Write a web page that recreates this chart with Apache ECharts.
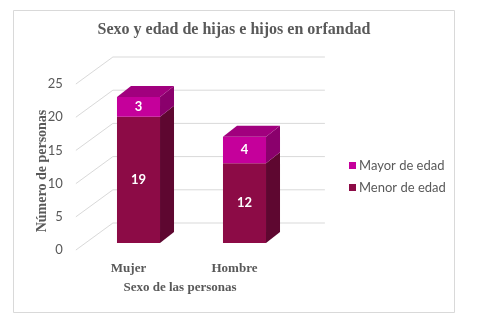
<!DOCTYPE html>
<html>
<head>
<meta charset="utf-8">
<script src="https://cdn.jsdelivr.net/npm/echarts@6/dist/echarts.min.js"></script>
<style>html,body{margin:0;padding:0;background:#fff;}#c{width:488px;height:323px;}</style>
</head>
<body>
<div id="c"></div>
<script>
const categories = ['Mujer', 'Hombre'];
const menorDeEdad = [19, 12];
const mayorDeEdad = [3, 4];
const yTicks = [0, 5, 10, 15, 20, 25];
const seriesNames = ['Mayor de edad', 'Menor de edad'];

const FRONT_DX = -9.6, FRONT_DY = 7;
const BACK_DX = 27.4, BACK_DY = -20;
const BAR_DX = 14, BAR_DY = -11;

const menorData = categories.map((c, i) => [i, 0, menorDeEdad[i]]);
const mayorData = categories.map((c, i) => [i, menorDeEdad[i], menorDeEdad[i] + mayorDeEdad[i]]);
const tickData = yTicks.map(v => [0, v]);

function gridRender(params, api) {
  const cs = params.coordSys;
  const v = api.value(1);
  const y = api.coord([0, v])[1];
  const L = cs.x, R = cs.x + cs.width;
  return {
    type: 'group',
    silent: true,
    children: [
      {
        type: 'polyline',
        shape: { points: [[L + FRONT_DX, y + FRONT_DY], [L + BACK_DX, y + BACK_DY], [R + BACK_DX, y + BACK_DY]] },
        style: { stroke: '#d9d9d9', lineWidth: 1, fill: null }
      },
      {
        type: 'text',
        style: { text: String(v), x: L + FRONT_DX - 13, y: y + FRONT_DY, align: 'right', verticalAlign: 'middle', fill: '#595959', font: '13px Lato' }
      }
    ]
  };
}

function makeBarRender(colors, isTop) {
  return function (params, api) {
    const ci = api.value(0), base = api.value(1), top = api.value(2);
    const xC = api.coord([ci, 0])[0];
    const w = api.size([1, 0])[0] * 0.406;
    const yB = api.coord([ci, base])[1], yT = api.coord([ci, top])[1];
    const xL = xC - w / 2, xR = xC + w / 2;
    const children = [
      { type: 'rect', shape: { x: xL, y: yT, width: w, height: yB - yT }, style: { fill: colors.front } },
      { type: 'polygon', shape: { points: [[xR, yT], [xR + BAR_DX, yT + BAR_DY], [xR + BAR_DX, yB + BAR_DY], [xR, yB]] }, style: { fill: colors.side } }
    ];
    if (isTop) {
      children.push({ type: 'polygon', shape: { points: [[xL, yT], [xL + BAR_DX, yT + BAR_DY], [xR + BAR_DX, yT + BAR_DY], [xR, yT]] }, style: { fill: colors.top } });
    }
    children.push({
      type: 'text',
      style: { text: String(top - base), x: xC, y: (yT + yB) / 2, align: 'center', verticalAlign: 'middle', fill: '#ffffff', font: 'bold 13px Lato' }
    });
    return { type: 'group', children: children };
  };
}

const chart = echarts.init(document.getElementById('c'), null, { renderer: 'canvas' });
chart.setOption({
  animation: false,
  backgroundColor: '#ffffff',
  graphic: [
    { type: 'rect', shape: { x: 13.5, y: 10.5, width: 441, height: 302 }, style: { fill: null, stroke: '#d9d9d9', lineWidth: 1 }, z: -10 },
    { type: 'text', style: { text: 'Sexo y edad de hijas e hijos en orfandad', x: 234, y: 30, align: 'center', verticalAlign: 'middle', fill: '#595959', font: 'bold 16px "Liberation Serif"' } }
  ],
  legend: {
    orient: 'vertical',
    left: 344,
    top: 154,
    itemWidth: 7,
    itemHeight: 7,
    itemGap: 9,
    icon: 'rect',
    data: seriesNames,
    textStyle: { color: '#595959', fontFamily: 'Lato', fontSize: 13, padding: [0, 0, 0, -2] }
  },
  grid: { left: 85.5, top: 77, width: 212, height: 166 },
  xAxis: {
    type: 'category',
    data: categories,
    axisLine: { show: false },
    axisTick: { show: false },
    axisLabel: { margin: 19, color: '#595959', fontFamily: 'Liberation Serif', fontSize: 13, fontWeight: 'bold', padding: [0, 20, 0, 0] },
    name: 'Sexo de las personas',
    nameLocation: 'middle',
    nameGap: 38,
    nameTextStyle: { color: '#595959', fontFamily: 'Liberation Serif', fontSize: 13, fontWeight: 'bold', padding: [0, 23, 0, 0] }
  },
  yAxis: {
    type: 'value',
    min: 0,
    max: 25,
    interval: 5,
    splitLine: { show: false },
    axisLine: { show: false },
    axisTick: { show: false },
    axisLabel: { show: false },
    name: 'Número de personas',
    nameLocation: 'middle',
    nameGap: 36,
    nameTextStyle: { color: '#595959', fontFamily: 'Liberation Serif', fontSize: 14, fontWeight: 'bold', padding: [0, 22, 0, 0] }
  },
  series: [
    { type: 'custom', name: 'grid', silent: true, renderItem: gridRender, data: tickData, encode: { x: 0, y: 1 }, z: 1 },
    { type: 'custom', name: 'Menor de edad', itemStyle: { color: '#8c0b46' }, renderItem: makeBarRender({ front: '#8c0b46', side: '#5e0730', top: '#74093a' }, false), data: menorData, encode: { x: 0, y: [1, 2] }, z: 2 },
    { type: 'custom', name: 'Mayor de edad', itemStyle: { color: '#c5009b' }, renderItem: makeBarRender({ front: '#c5009b', side: '#8a006c', top: '#a1007e' }, true), data: mayorData, encode: { x: 0, y: [1, 2] }, z: 3 }
  ]
});
</script>
</body>
</html>
